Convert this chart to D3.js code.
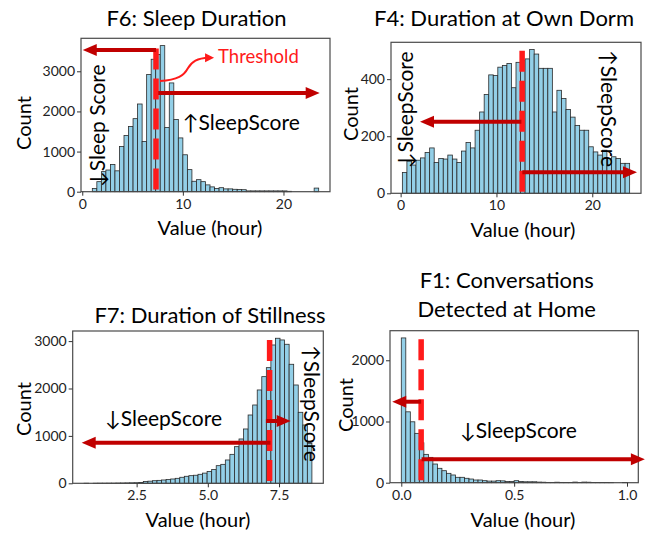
<!DOCTYPE html>
<html>
<head>
<meta charset="utf-8">
<title>Sleep feature histograms</title>
<script src="https://d3js.org/d3.v7.min.js"></script>
<style>
body { margin: 0; background: #fff; }
svg { font-family: Lato, "DejaVu Sans", sans-serif; }
</style>
</head>
<body>
<svg id="chart" width="649" height="538"></svg>
<script>
// histogram counts, 50 equal bins each
var f6Counts = [80, 250, 500, 540, 680, 520, 1125, 1400, 1625, 1820,
  2185, 1250, 2920, 3300, 3420, 3640, 1600, 2710, 1800, 1340,
  920, 550, 260, 300, 250, 170, 120, 80, 100, 70,
  70, 60, 55, 50, 20, 20, 20, 20, 20, 20,
  20, 20, 20, 10, 0, 0, 0, 0, 0, 90];
var f4Counts = [73, 113, 99, 116, 124, 143, 159, 108, 122, 120,
  134, 120, 108, 148, 178, 159, 221, 285, 346, 415,
  413, 442, 448, 455, 370, 459, 465, 471, 504, 488,
  438, 438, 438, 285, 361, 332, 294, 267, 238, 221,
  221, 163, 145, 134, 151, 122, 128, 122, 105, 105];
var f7Counts = [1, 0, 1, 2, 2, 3, 3, 5, 6, 8,
  10, 12, 18, 40, 45, 55, 62, 70, 80, 91,
  105, 127, 148, 161, 170, 190, 215, 250, 290, 372,
  400, 492, 611, 773, 935, 1146, 1441, 1652, 1969, 2250,
  2440, 2918, 3060, 3024, 2933, 2511, 2074, 1498, 1230, 844];
var f1Counts = [2365, 1158, 995, 806, 652, 463, 414, 305, 235, 196,
  153, 126, 88, 88, 72, 60, 44, 44, 33, 26,
  26, 33, 30, 20, 20, 33, 20, 15, 15, 15,
  10, 8, 5, 5, 8, 5, 3, 3, 10, 5,
  10, 8, 3, 2, 2, 2, 1, 0, 0, 3];

// value range covered by the bins (hours)
var f6Range = [1.0, 23.5];
var f4Range = [0.18, 23.9];
var f7Range = [0.655, 8.655];
var f1Range = [0.0, 1.0];

// thresholds (hours)
var f6Threshold = 7.33;
var f4Threshold = 12.68;
var f7Threshold = 7.17;
var f1Threshold = 0.088;

// tick values
var f6XTicks = [0, 10, 20], f6YTicks = [0, 1000, 2000, 3000];
var f4XTicks = [0, 10, 20], f4YTicks = [0, 200, 400];
var f7XTicks = [2.5, 5.0, 7.5], f7YTicks = [0, 1000, 2000, 3000];
var f1XTicks = [0.0, 0.5, 1.0], f1YTicks = [0, 1000, 2000];

var f6Title = ["F6: Sleep Duration"];
var f4Title = ["F4: Duration at Own Dorm"];
var f7Title = ["F7: Duration of Stillness"];
var f1Title = ["F1: Conversations", "Detected at Home"];

var panels = [
  {
    title: f6Title, counts: f6Counts, range: f6Range, thresh: f6Threshold,
    xTicks: f6XTicks, yTicks: f6YTicks, fmt: d3.format("d"),
    box: {left: 81, top: 38.3, right: 330, bottom: 191.7},
    titlePos: [196.5, 26], countPos: [23, 123], valuePos: [210, 234.5],
    dashTop: 3570,
    arrows: [[f6Threshold, 3531, 0.05, 3531], [7.55, 2462, 23.6, 2462]],
    texts: [
      {t: "\u2193Sleep Score", x: 1.42, y: 117, rot: -90},
      {t: "\u2191SleepScore", x: 10.0, y: 1535, rot: 0}
    ],
    callout: true
  },
  {
    title: f4Title, counts: f4Counts, range: f4Range, thresh: f4Threshold,
    xTicks: f4XTicks, yTicks: f4YTicks, fmt: d3.format("d"),
    box: {left: 391, top: 42.3, right: 641, bottom: 193.3},
    titlePos: [504, 26], countPos: [350, 114], valuePos: [523, 236.5],
    dashTop: 500,
    arrows: [[12.6, 251, 2.02, 251], [12.7, 73.6, 24.67, 73.6]],
    texts: [
      {t: "\u2193SleepScore", x: 0.40, y: 87.6, rot: -90},
      {t: "\u2191SleepScore", x: 21.75, y: 502, rot: 90}
    ]
  },
  {
    title: f7Title, counts: f7Counts, range: f7Range, thresh: f7Threshold,
    xTicks: f7XTicks, yTicks: f7YTicks, fmt: d3.format(".1f"),
    box: {left: 72.7, top: 331, right: 323.3, bottom: 483.3},
    titlePos: [210, 323], countPos: [22.5, 409], valuePos: [198, 526.7],
    dashTop: 3024,
    arrows: [[7.2, 857, 0.57, 857], [7.04, 1314, 7.91, 1314]],
    texts: [
      {t: "\u2193SleepScore", x: 1.39, y: 1215, rot: 0},
      {t: "\u2191SleepScore", x: 8.66, y: 2918, rot: 90}
    ]
  },
  {
    title: f1Title, counts: f1Counts, range: f1Range, thresh: f1Threshold,
    xTicks: f1XTicks, yTicks: f1YTicks, fmt: d3.format(".1f"),
    box: {left: 390, top: 330.7, right: 638.3, bottom: 482.7},
    titlePos: [506.7, 288.3], countPos: [345, 405], valuePos: [523, 527.3],
    dashTop: 2343,
    arrows: [[0.088, 1323, -0.04, 1323], [0.09, 382, 1.079, 382]],
    texts: [
      {t: "\u2193SleepScore", x: 0.26, y: 725, rot: 0}
    ]
  }
];

var svg = d3.select("#chart");
var darkRed = "#c00000";

function arrowHead(g, x1, y1, x2, y2, len, half, color) {
  var a = Math.atan2(y2 - y1, x2 - x1);
  var bx = x2 - len * Math.cos(a), by = y2 - len * Math.sin(a);
  var px = -Math.sin(a) * half, py = Math.cos(a) * half;
  g.append("polygon")
    .attr("points", [[x2, y2], [bx + px, by + py], [bx - px, by - py]].join(" "))
    .attr("fill", color);
}

panels.forEach(function(p) {
  var g = svg.append("g");
  var n = p.counts.length;
  var span = p.range[1] - p.range[0];
  var step = span / n;

  var x = d3.scaleLinear()
    .domain([p.range[0] - 0.05 * span, p.range[1] + 0.05 * span])
    .range([p.box.left, p.box.right]);
  var y = d3.scaleLinear()
    .domain([0, d3.max(p.counts) * 1.05])
    .range([p.box.bottom, p.box.top]);

  // bars
  g.append("g").selectAll("rect")
    .data(p.counts)
    .enter().append("rect")
    .attr("x", function(d, i) { return x(p.range[0] + i * step); })
    .attr("width", function(d, i) { return x(p.range[0] + (i + 1) * step) - x(p.range[0] + i * step); })
    .attr("y", function(d) { return y(d); })
    .attr("height", function(d) { return y(0) - y(d); })
    .attr("fill", "#93cfe7")
    .attr("stroke", "#2a2a2a")
    .attr("stroke-width", 0.8);

  // frame
  g.append("rect")
    .attr("x", p.box.left).attr("y", p.box.top)
    .attr("width", p.box.right - p.box.left)
    .attr("height", p.box.bottom - p.box.top)
    .attr("fill", "none").attr("stroke", "#4a4a4a").attr("stroke-width", 1.2);

  var xAxis = g.append("g")
    .attr("transform", "translate(0," + p.box.bottom + ")")
    .call(d3.axisBottom(x).tickValues(p.xTicks).tickFormat(p.fmt).tickSize(4).tickPadding(3));
  var yAxis = g.append("g")
    .attr("transform", "translate(" + p.box.left + ",0)")
    .call(d3.axisLeft(y).tickValues(p.yTicks).tickFormat(d3.format("d")).tickSize(4).tickPadding(2));
  [xAxis, yAxis].forEach(function(a) {
    a.select(".domain").remove();
    a.selectAll("text").attr("font-family", "Lato, 'DejaVu Sans', sans-serif")
      .attr("font-size", "14px").attr("fill", "#222");
    a.selectAll("line").attr("stroke", "#333");
  });

  // threshold
  g.append("line")
    .attr("x1", x(p.thresh)).attr("x2", x(p.thresh))
    .attr("y1", y(p.dashTop)).attr("y2", y(0))
    .attr("stroke", "#ff1a1a").attr("stroke-width", 5.5)
    .attr("stroke-dasharray", "21,9");

  // direction arrows
  p.arrows.forEach(function(a) {
    var x1 = x(a[0]), y1 = y(a[1]), x2 = x(a[2]), y2 = y(a[3]);
    var dir = x2 > x1 ? 1 : -1;
    g.append("line")
      .attr("x1", x1).attr("y1", y1).attr("x2", x2 - dir * 10).attr("y2", y2)
      .attr("stroke", darkRed).attr("stroke-width", 4);
    arrowHead(g, x1, y1, x2, y2, 14, 6, darkRed);
  });

  // annotation texts
  p.texts.forEach(function(t) {
    g.append("text")
      .attr("transform", "translate(" + x(t.x) + "," + y(t.y) + ") rotate(" + t.rot + ")")
      .attr("dominant-baseline", t.rot ? "central" : "auto")
      .attr("font-size", "21px")
      .attr("fill", "#000")
      .text(t.t);
  });

  // callout for the threshold (first panel only)
  if (p.callout) {
    var pts = [[7.73, 2760], [9.52, 2778], [10.12, 2902], [10.5, 3077],
               [10.9, 3251], [11.4, 3326], [12.6, 3338]];
    var s = pts.map(function(d) { return [x(d[0]), y(d[1])]; });
    g.append("path")
      .attr("d", "M" + s[0] + "C" + s[1] + " " + s[2] + " " + s[3] + "C" + s[4] + " " + s[5] + " " + s[6])
      .attr("fill", "none").attr("stroke", "#ff1a1a").attr("stroke-width", 2);
    arrowHead(g, s[6][0] - 5, s[6][1], x(13.1), y(3338), 9, 4.5, "#ff1a1a");
    g.append("text")
      .attr("x", x(13.5)).attr("y", y(3200))
      .attr("font-size", "18.5px").attr("fill", "#ff1a1a")
      .text("Threshold");
  }

  // titles and axis labels
  g.append("text")
    .attr("text-anchor", "middle")
    .attr("font-size", "22px")
    .selectAll("tspan").data(p.title).enter().append("tspan")
    .attr("x", p.titlePos[0])
    .attr("y", function(d, i) { return p.titlePos[1] + i * 28.4; })
    .text(function(d) { return d; });
  g.append("text")
    .attr("transform", "translate(" + p.countPos[0] + "," + p.countPos[1] + ") rotate(-90)")
    .attr("text-anchor", "middle").attr("dominant-baseline", "central")
    .attr("font-size", "20px").text("Count");
  g.append("text")
    .attr("x", p.valuePos[0]).attr("y", p.valuePos[1])
    .attr("text-anchor", "middle")
    .attr("font-size", "20px").text("Value (hour)");
});
</script>
</body>
</html>
